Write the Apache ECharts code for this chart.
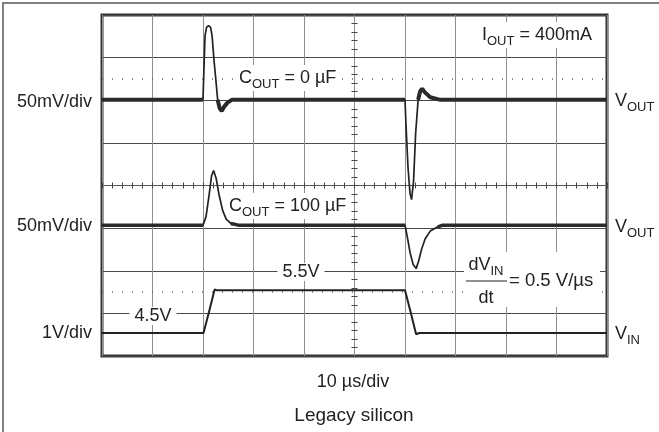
<!DOCTYPE html>
<html>
<head>
<meta charset="utf-8">
<script src="https://cdn.jsdelivr.net/npm/echarts@6/dist/echarts.min.js"></script>
<style>html,body{margin:0;background:#fff}#chart{width:659px;height:432px}</style>
</head>
<body>
<div id="chart"></div>
<script>
// 时间: µs, 以屏幕中心为 0, 10 µs/div
// VOUT (COUT = 0 µF), mV 相对基线
const voutNoCapT  = [-50, -30.0, -29.9, -29.6, -29.3, -28.9, -28.5, -28.2, -27.8, -27.4, -27.1, -26.7, -26.3, -25.8, -25.1, -24.3, 10.0, 10.2, 10.6, 11.0, 11.3, 11.7, 12.1, 12.6, 13.0, 13.4, 13.9, 15, 17, 50]
const voutNoCapMv = [0, 0, 20, 75, 85, 87, 85, 75, 45, 20, 0, -10, -13, -8, -3, 0, 0, -30, -80, -110, -117, -95, -40, 0, 10, 13, 9, 3, 0, 0]
// VOUT (COUT = 100 µF), mV 相对基线
const voutCapT  = [-50, -30.0, -29.4, -28.8, -28.3, -27.9, -27.4, -26.8, -26.1, -25.4, -24.5, -23, 10, 10.4, 11.0, 11.6, 12.2, 12.7, 13.3, 14.0, 15, 16.5, 17.5, 50]
const voutCapMv = [0, 0, 10, 35, 58, 64, 55, 35, 17, 7, 2, 0, 0, -12, -32, -46, -51, -42, -28, -16, -7, -2, 0, 0]
// VIN, V
const vinT = [-50, -29.9, -28.8, -27.7, -27.2, 10.0, 11.1, 12.2, 12.8, 50]
const vinV = [4.5, 4.5, 5.0, 5.52, 5.5, 5.5, 5.0, 4.47, 4.5, 4.5]
// 各通道刻度与零位 (div)
const voutMvPerDiv = 50
const vinVPerDiv = 1
const voutNoCapPos = 2.01
const voutCapPos = -0.93
const vinRef = 4.5
const vinPos = -3.46
const dottedLevels = [2.5, -2.5]

const font = '"Liberation Sans", Arial, Helvetica, sans-serif'
const ink = '#222'

function toDiv(ts, vs, pos, perDiv, ref) {
    return ts.map((t, i) => [t, pos + (vs[i] - ref) / perDiv])
}
function flatOnly(ts, vs, pos, perDiv, ref, band) { // 只保留接近基线的段, 画成粗噪声带
    return ts.map((t, i) => [t, Math.abs(vs[i] - ref) <= band ? pos + (vs[i] - ref) / perDiv : '-'])
}

const rich = {
    m: {fontSize: 18, fontFamily: font, lineHeight: 26, fill: ink},
    s: {fontSize: 13, fontFamily: font, lineHeight: 14, verticalAlign: 'bottom', fill: ink}
}
function label(text, x, y, align, size) {
    const fs = size || 18
    return {
        type: 'text', x: x, y: y, z: 100, silent: true,
        style: {text: text, rich: rich, font: fs + 'px ' + font, fontSize: fs, fontFamily: font, fill: ink, align: align, verticalAlign: 'middle'}
    }
}
function boxed(text, x, y, align, pad) {
    const el = label(text, x, y, align)
    el.style.backgroundColor = '#fff'
    el.style.padding = pad
    return el
}

const chart = echarts.init(document.getElementById('chart'), null, {renderer: 'canvas'})

const axisTickStyle = {show: true, length: 3, lineStyle: {color: '#444', width: 1}}
const option = {
    animation: false,
    grid: {left: 102, right: 52, top: 15, bottom: 76, show: true, borderColor: '#333', borderWidth: 3},
    xAxis: [{
        type: 'value', min: -50, max: 50, interval: 10,
        axisLine: {onZero: true, onZeroAxisIndex: 0, lineStyle: {color: '#555', width: 1}},
        axisTick: axisTickStyle,
        minorTick: {show: true, splitNumber: 5, length: 3, lineStyle: {color: '#444'}},
        axisLabel: {show: false},
        splitLine: {show: true, lineStyle: {color: '#8e8e8e', width: 1}}
    }, {
        type: 'value', min: -50, max: 50, interval: 10, position: 'top',
        axisLine: {onZero: true, onZeroAxisIndex: 0, lineStyle: {color: '#555', width: 1}},
        axisTick: axisTickStyle,
        minorTick: {show: true, splitNumber: 5, length: 3, lineStyle: {color: '#444'}},
        axisLabel: {show: false},
        splitLine: {show: false}
    }],
    yAxis: [{
        type: 'value', min: -4, max: 4, interval: 1,
        axisLine: {onZero: true, onZeroAxisIndex: 0, lineStyle: {color: '#8e8e8e', width: 1}},
        axisTick: axisTickStyle,
        minorTick: {show: true, splitNumber: 5, length: 3, lineStyle: {color: '#444'}},
        axisLabel: {show: false},
        splitLine: {show: true, lineStyle: {color: '#4a4a4a', width: 1}}
    }, {
        type: 'value', min: -4, max: 4, interval: 1, position: 'right',
        axisLine: {onZero: true, onZeroAxisIndex: 0, lineStyle: {color: '#8e8e8e', width: 1}},
        axisTick: axisTickStyle,
        minorTick: {show: true, splitNumber: 5, length: 3, lineStyle: {color: '#444'}},
        axisLabel: {show: false},
        splitLine: {show: false}
    }],
    series: [{ // VIN
        type: 'line', silent: true, showSymbol: false, z: 3,
        data: toDiv(vinT, vinV, vinPos, vinVPerDiv, vinRef),
        lineStyle: {color: ink, width: 2},
        markLine: { // 点线参考电平
            silent: true, symbol: ['none', 'none'], label: {show: false},
            lineStyle: {type: [1, 9], color: '#666', width: 1.5},
            data: dottedLevels.map(v => ({yAxis: v}))
        }
    }, { // VOUT, COUT = 0 µF
        type: 'line', silent: true, showSymbol: false, z: 3,
        data: toDiv(voutNoCapT, voutNoCapMv, voutNoCapPos, voutMvPerDiv, 0),
        lineStyle: {color: ink, width: 1.7}
    }, {
        type: 'line', silent: true, showSymbol: false, z: 3, connectNulls: false,
        data: flatOnly(voutNoCapT, voutNoCapMv, voutNoCapPos, voutMvPerDiv, 0, 15),
        lineStyle: {color: '#2a2a2a', width: 4}
    }, { // VOUT, COUT = 100 µF
        type: 'line', silent: true, showSymbol: false, z: 3,
        data: toDiv(voutCapT, voutCapMv, voutCapPos, voutMvPerDiv, 0),
        lineStyle: {color: ink, width: 1.7}
    }, {
        type: 'line', silent: true, showSymbol: false, z: 3, connectNulls: false,
        data: flatOnly(voutCapT, voutCapMv, voutCapPos, voutMvPerDiv, 0, 5),
        lineStyle: {color: '#2a2a2a', width: 3.5}
    }],
    graphic: [
        {type: 'polyline', z: 100, silent: true, shape: {points: [[3, 432], [3, 3], [659, 3]]}, style: {stroke: '#808080', lineWidth: 2, fill: null}},
        label('50mV/div', 92, 102, 'right'),
        label('50mV/div', 92, 226, 'right'),
        label('1V/div', 92, 333, 'right'),
        label('{m|V}{s|OUT}', 615, 101, 'left'),
        label('{m|V}{s|OUT}', 615, 227, 'left'),
        label('{m|V}{s|IN}', 615, 334, 'left'),
        boxed('{m|I}{s|OUT}{m| = 400mA}', 480, 35, 'left', [0, 2]),
        boxed('{m|C}{s|OUT}{m| = 0 µF}', 236, 78, 'left', [0, 3]),
        boxed('{m|C}{s|OUT}{m| = 100 µF}', 227, 206, 'left', [0, 2]),
        boxed('5.5V', 301, 272, 'center', [0, 5]),
        boxed('4.5V', 153, 316, 'center', [0, 5]),
        {type: 'rect', z: 99, silent: true, shape: {x: 464, y: 252, width: 136, height: 55}, style: {fill: '#fff'}},
        label('{m|dV}{s|IN}', 486, 265, 'center'),
        {type: 'line', z: 100, silent: true, shape: {x1: 466, y1: 281, x2: 507, y2: 281}, style: {stroke: ink, lineWidth: 1.2}},
        label('dt', 486, 298, 'center'),
        label('= 0.5 V/µs', 509, 281, 'left', 18.5),
        label('10 µs/div', 353, 382, 'center'),
        label('Legacy silicon', 354, 416, 'center', 19)
    ]
}
chart.setOption(option)
</script>
</body>
</html>
